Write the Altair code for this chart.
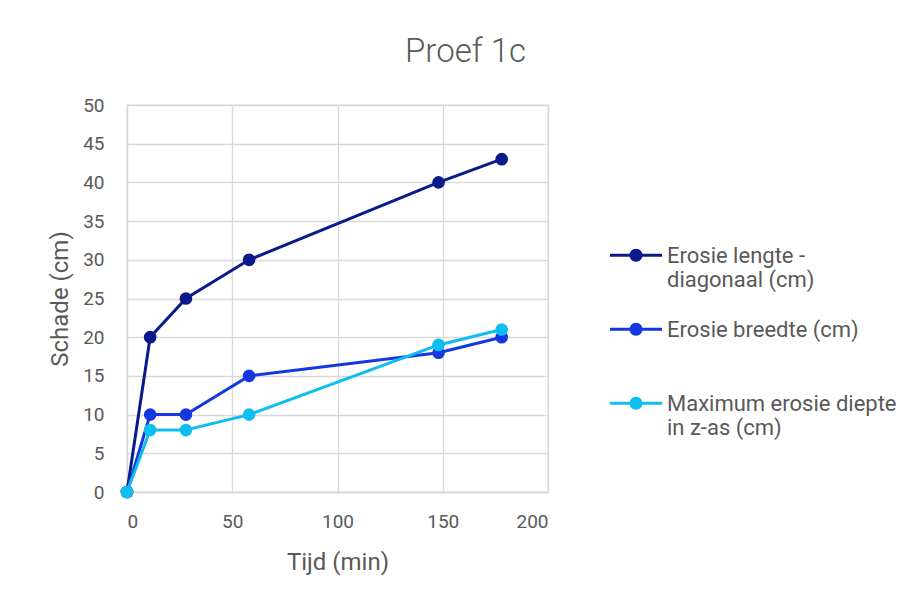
import altair as alt
import pandas as pd

tijd = [0, 11, 28, 58, 148, 178]
lengte = [0, 20, 25, 30, 40, 43]
breedte = [0, 10, 10, 15, 18, 20]
diepte = [0, 8, 8, 10, 19, 21]

series_names = [
    "Erosie lengte -\ndiagonaal (cm)",
    "Erosie breedte (cm)",
    "Maximum erosie diepte\nin z-as (cm)",
]
series_colors = ["#0A1A8A", "#1438E0", "#10BDEF"]

rows = []
for name, vals in zip(series_names, [lengte, breedte, diepte]):
    for t, v in zip(tijd, vals):
        rows.append({"Tijd": t, "Schade": v, "Reeks": name})
df = pd.DataFrame(rows)

FONT = "Roboto"
GREY = "#595959"

# legend glyph: horizontal bar with a dot, shifted up to sit on the first text line
legend_path = ("M-1,-0.355L1,-0.355L1,-0.245L-1,-0.245Z"
               "M0.25,-0.3A0.25,0.25,0,1,1,-0.25,-0.3A0.25,0.25,0,1,1,0.25,-0.3Z")

x_enc = alt.X(
    "Tijd:Q",
    title="Tijd (min)",
    scale=alt.Scale(domain=[0, 200], nice=False),
    axis=alt.Axis(values=[0, 50, 100, 150, 200], ticks=False, labelPadding=20,
                  titlePadding=19),
)
y_enc = alt.Y(
    "Schade:Q",
    title="Schade (cm)",
    scale=alt.Scale(domain=[0, 50], nice=False),
    axis=alt.Axis(values=list(range(0, 55, 5)), ticks=False, labelPadding=23,
                  titlePadding=10),
)
color_scale = alt.Scale(domain=series_names, range=series_colors)

legend = alt.Legend(
    title=None,
    orient="none",
    legendX=483,
    legendY=143,
    symbolType=legend_path,
    symbolSize=2704,
    symbolStrokeWidth=0,
    symbolOpacity=1,
    labelExpr="length(split(datum.label, '\\n')) > 1 ? split(datum.label, '\\n') : [datum.label, ' ']",
    labelFont=FONT,
    labelFontSize=22,
    labelColor=GREY,
    labelBaseline="alphabetic",
    labelOffset=5,
    clipHeight=30,
    rowPadding=28,
    labelLimit=400,
)

base = alt.Chart(df)

points = base.mark_point(filled=True, size=160, opacity=1).encode(
    x=x_enc, y=y_enc,
    color=alt.Color("Reeks:N", scale=color_scale, sort=series_names, legend=legend),
)
lines = base.mark_line(strokeWidth=3).encode(
    x=x_enc, y=y_enc,
    color=alt.Color("Reeks:N", scale=color_scale, sort=series_names, legend=legend),
    order="Tijd:Q",
)

chart = (
    alt.layer(lines, points)
    .properties(
        width=421,
        height=387,
        title=alt.TitleParams("Proef 1c", fontSize=33, font=FONT, fontWeight=300,
                              color=GREY, anchor="middle", frame="group", offset=27,
                              dx=128),
        padding={"left": 40, "top": 28, "right": 8, "bottom": 10},
    )
    .configure_axis(
        gridColor="#D9D9D9",
        gridWidth=1.3,
        domainColor="#D9D9D9",
        domainWidth=1.3,
        labelFont=FONT,
        labelFontSize=19,
        labelColor=GREY,
        titleFont=FONT,
        titleFontSize=24,
        titleFontWeight="normal",
        titleColor=GREY,
    )
    .configure_view(stroke="#D9D9D9", strokeWidth=1.3)
)

chart.save("out.html", embed_options={"renderer": "svg", "actions": False})
